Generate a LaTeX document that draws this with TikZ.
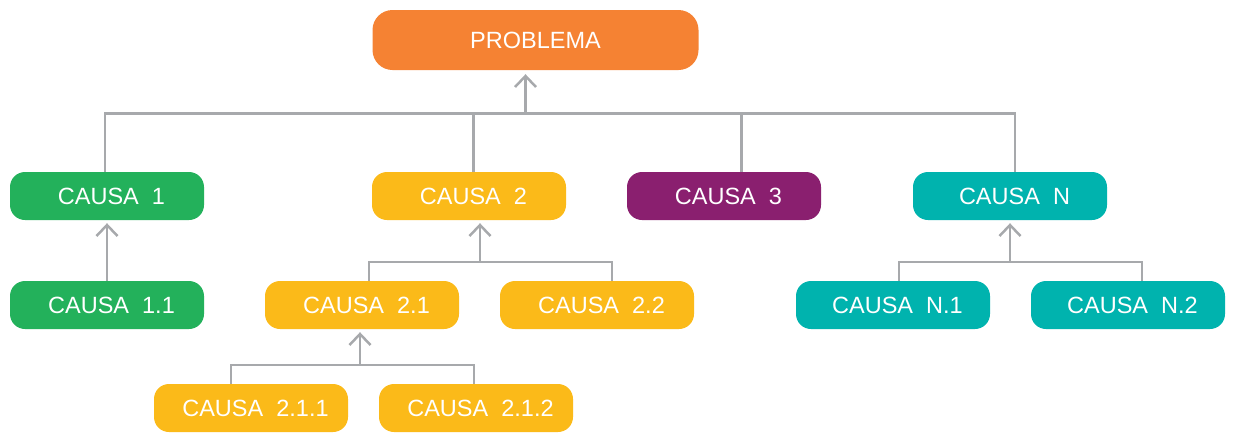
\documentclass[tikz,border=0pt]{standalone}
\usepackage{fontspec}
\setmainfont{Liberation Sans}
\usetikzlibrary{arrows.meta}
\definecolor{corange}{HTML}{F58233}
\definecolor{cgreen}{HTML}{23B15B}
\definecolor{cyellow}{HTML}{FBBA19}
\definecolor{cpurple}{HTML}{8A1F6F}
\definecolor{cteal}{HTML}{00B3AE}
\definecolor{cgray}{HTML}{A7A9AC}
\begin{document}
\begin{tikzpicture}[x=1pt,y=-1pt,
  box/.style={rectangle, rounded corners=15pt, minimum width=194pt, minimum height=48pt,
    inner sep=0pt, text=white, font=\fontsize{23.5}{28}\selectfont},
  ln/.style={draw=cgray, line width=2.5pt},
  arr/.style={ln, -{Straight Barb[length=11pt,width=21pt,line width=2.5pt]}}]
\useasboundingbox (0,0) rectangle (1235,432);
\node[box, fill=corange, minimum width=326pt, minimum height=60pt, rounded corners=20pt] (prob) at (535.5,40) {PROBLEMA};
\node[box, fill=cgreen] (c1) at (107,196) {\hspace*{9pt}CAUSA\ \ 1};
\node[box, fill=cyellow] (c2) at (469,196) {\hspace*{9pt}CAUSA\ \ 2};
\node[box, fill=cpurple] (c3) at (724,196) {\hspace*{9pt}CAUSA\ \ 3};
\node[box, fill=cteal] (cN) at (1010,196) {\hspace*{9pt}CAUSA\ \ N};
\node[box, fill=cgreen] (c11) at (107,305) {\hspace*{9pt}CAUSA\ \ 1.1};
\node[box, fill=cyellow] (c21) at (362,305) {\hspace*{9pt}CAUSA\ \ 2.1};
\node[box, fill=cyellow] (c22) at (597,305) {\hspace*{9pt}CAUSA\ \ 2.2};
\node[box, fill=cteal] (cN1) at (893,305) {\hspace*{9pt}CAUSA\ \ N.1};
\node[box, fill=cteal] (cN2) at (1128,305) {\hspace*{9pt}CAUSA\ \ N.2};
\node[box, fill=cyellow] (c211) at (251,408) {\hspace*{9pt}CAUSA\ \ 2.1.1};
\node[box, fill=cyellow] (c212) at (476,408) {\hspace*{9pt}CAUSA\ \ 2.1.2};
% top bus
\coordinate (top) at (525.5,113.5);
\draw[ln] ([xshift=-2pt]c1.north) -- ([xshift=-2pt]c1.north |- top) -- ([xshift=5pt]cN.north |- top) -- ([xshift=5pt]cN.north);
\draw[ln] ([xshift=4.5pt]c2.north) -- ([xshift=4.5pt]c2.north |- top);
\draw[ln] ([xshift=17.5pt]c3.north) -- ([xshift=17.5pt]c3.north |- top);
\draw[arr] (top) -- ([yshift=-4pt]prob.south -| top);
% causa 1
\draw[arr] (c11.north) -- ([yshift=-3pt]c1.south);
% causa 2
\coordinate (b2) at (480,262);
\draw[ln] ([xshift=7pt]c21.north) |- (b2) -| ([xshift=15pt]c22.north);
\draw[arr] (b2) -- ([yshift=-3pt]c2.south -| b2);
% causa 2.1
\coordinate (b21) at (360,365);
\draw[ln] ([xshift=-20pt]c211.north) |- (b21) -| ([xshift=-2pt]c212.north);
\draw[arr] (b21) -- ([yshift=-3pt]c21.south -| b21);
% causa N
\coordinate (bN) at (1010,262);
\draw[ln] ([xshift=6pt]cN1.north) |- (bN) -| ([xshift=14pt]cN2.north);
\draw[arr] (bN) -- ([yshift=-3pt]cN.south -| bN);
\end{tikzpicture}
\end{document}
